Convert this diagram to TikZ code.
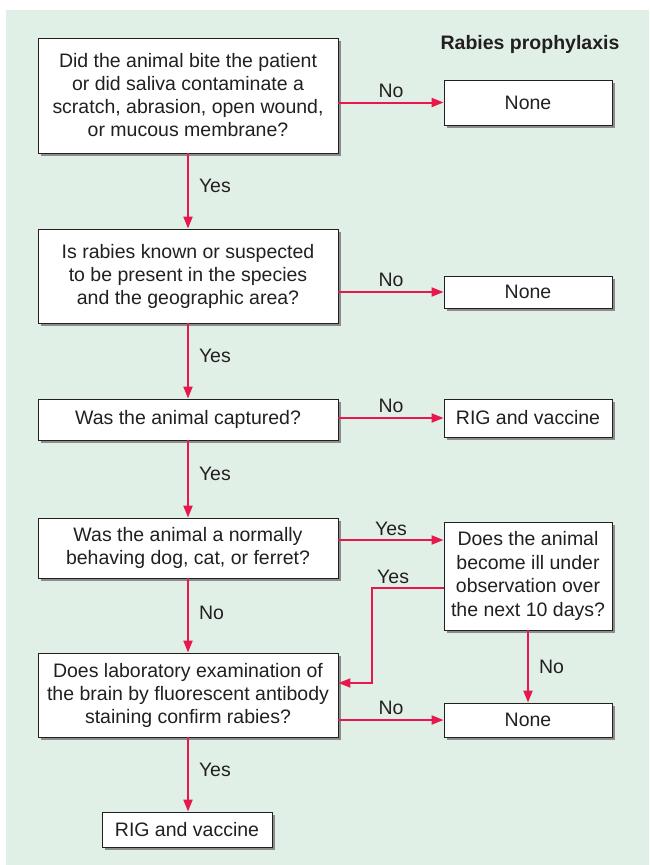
\documentclass[tikz,border=0pt]{standalone}
\usepackage{fontspec}
\setmainfont{Liberation Sans}
\usetikzlibrary{
  arrows.meta,
  positioning,
  calc,
  shadows
}
\definecolor{rpgreen}{HTML}{E1F0E6}
\definecolor{rpred}{HTML}{E8174D}
\definecolor{rpdark}{HTML}{231F20}
\definecolor{rpshadow}{HTML}{8C8C8C}

\begin{document}
\begin{tikzpicture}[
      x=1pt, y=-1pt,
      box/.style={
        rectangle, inner sep=0pt,
        minimum width=300pt,
        draw=rpdark, line width=0.9pt, fill=white,
        drop shadow={shadow xshift=2.5pt, shadow yshift=-2.5pt, fill=rpshadow, opacity=1},
        font=\fontsize{19.5}{23}\selectfont\color{rpdark}, align=center
      },
      endbox/.style={box, minimum width=168pt},
      arrow/.style={-{Triangle[length=12pt, width=9pt]}, line width=2pt, rpred},
      label/.style={font=\fontsize{19.5}{22}\selectfont, text=rpdark, inner sep=2pt},
      vlabel/.style={label, midway, right=8pt, yshift=5pt}
    ]
      \useasboundingbox (0,0) rectangle (649,865);
      \fill[rpgreen] (6,10) rectangle (649,865);

      \node[font=\bfseries\fontsize{19.5}{22}\selectfont\color{rpdark}] (title) at (530,44) {Rabies prophylaxis};

      \node[box, minimum height=115pt] (bite) at (188,95.5) {Did the animal bite the patient\\or did saliva contaminate a\\scratch, abrasion, open wound,\\or mucous membrane?};
      \node[box, minimum height=94pt] (known) at (188,276) {Is rabies known or suspected\\to be present in the species\\and the geographic area?};
      \node[box, minimum height=41pt] (captured) at (188,419.5) {Was the animal captured?};
      \node[box, minimum height=60pt] (normal) at (188,548) {Was the animal a normally\\behaving dog, cat, or ferret?};
      \node[box, minimum height=84pt] (lab) at (188,695) {Does laboratory examination of\\the brain by fluorescent antibody\\staining confirm rabies?};
      \node[box, minimum width=170pt, minimum height=35pt] (rig2) at (187,829.5) {RIG and vaccine};

      \node[endbox, minimum height=45pt] (none1) at (528,102.5) {None};
      \node[endbox, minimum height=32pt] (none2) at (528,292) {None};
      \node[endbox, minimum height=38pt] (rig1) at (528,418) {RIG and vaccine};
      \node[endbox, minimum height=108pt,
        font=\fontsize{19.5}{23.6}\selectfont\color{rpdark}] (observe) at (528,576) {Does the animal\\become ill under\\observation over\\the next 10 days?};
      \node[endbox, minimum height=34pt] (none3) at (528,720) {None};

      \draw[arrow] (bite) -- node[vlabel] {Yes} (known);
      \draw[arrow] (known) -- node[vlabel] {Yes} (captured);
      \draw[arrow] (captured) -- node[vlabel] {Yes} (normal);
      \draw[arrow] (normal) -- node[vlabel, yshift=-2pt] {No} (lab);
      \draw[arrow] (lab.south) -- node[vlabel] {Yes} (lab.south |- rig2.north);

      \draw[arrow] (bite.east |- none1) -- node[label, midway, above=2pt] {No} (none1.west);
      \draw[arrow] (known.east |- none2) -- node[label, midway, above=2pt] {No} (none2.west);
      \draw[arrow] (captured.east |- rig1) -- node[label, midway, above=2pt] {No} (rig1.west);
      \draw[arrow] ([yshift=8pt]normal.east) -- node[label, midway, above=1pt] {Yes} ([yshift=8pt]normal.east -| observe.west);
      \draw[arrow] ([yshift=-12pt]observe.west) -- node[label, pos=0.7, above=1pt] {Yes} ++(-72,0) |- ([yshift=12pt]lab.east);
      \draw[arrow] (observe) -- node[label, midway, right=8pt] {No} (none3);
      \draw[arrow] (lab.east |- none3) -- node[label, midway, above=2pt] {No} (none3.west);
    \end{tikzpicture}
\end{document}
